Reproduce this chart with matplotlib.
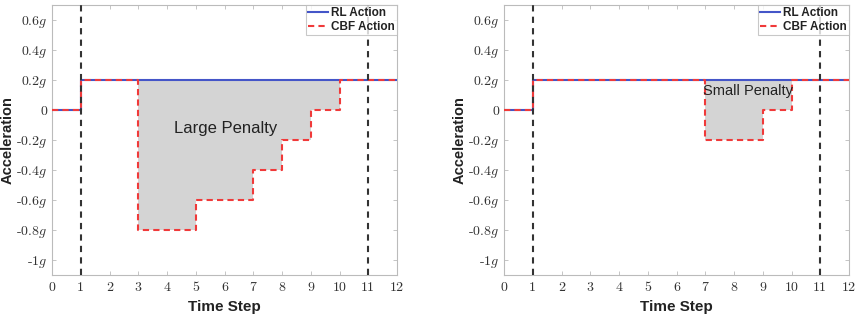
import matplotlib
matplotlib.use("Agg")
import matplotlib.pyplot as plt
import numpy as np

plt.rcParams['mathtext.fontset'] = 'cm'
plt.rcParams['font.family'] = ['Liberation Sans', 'DejaVu Sans']

# Data
t_edges = [0, 1, 2, 3, 4, 5, 6, 7, 8, 9, 10, 11, 12]
rl_action = [0, 0.2, 0.2, 0.2, 0.2, 0.2, 0.2, 0.2, 0.2, 0.2, 0.2, 0.2]
cbf_large = [0, 0.2, 0.2, -0.8, -0.8, -0.6, -0.6, -0.4, -0.2, 0, 0.2, 0.2]
cbf_small = [0, 0.2, 0.2, 0.2, 0.2, 0.2, 0.2, -0.2, -0.2, 0, 0.2, 0.2]
yticks = [-1, -0.8, -0.6, -0.4, -0.2, 0, 0.2, 0.4, 0.6]
ytick_labels = ['-1$g$', '-0.8$g$', '-0.6$g$', '-0.4$g$', '-0.2$g$', '0',
                '0.2$g$', '0.4$g$', '0.6$g$']
xticks = list(range(0, 13))
vlines = [1, 11]
panel_texts = ['Large Penalty', 'Small Penalty']
text_pos = [(6.05, -0.12), (8.5, 0.125)]
text_sizes = [12, 10.5]

fig = plt.figure(figsize=(8.56, 3.2), dpi=100)
ax1 = fig.add_axes([52/856, 1-275/320, 345/856, 270/320])
ax2 = fig.add_axes([504/856, 1-275/320, 345/856, 270/320])

def stairs_xy(vals):
    x = np.array(t_edges, dtype=float)
    y = np.array(list(vals) + [vals[-1]], dtype=float)
    return x, y

blue = '#4455c8'
red = '#f03a3a'
for ax, cbf, txt, pos, ts in zip([ax1, ax2], [cbf_large, cbf_small], panel_texts, text_pos, text_sizes):
    x, yr = stairs_xy(rl_action)
    _, yc = stairs_xy(cbf)
    ax.fill_between(x, yr, yc, step='post', color='#d4d4d4', linewidth=0, zorder=1)
    ax.step(x, yr, where='post', color=blue, lw=1.5, label='RL Action', zorder=3)
    ax.step(x, yc, where='post', color=red, lw=1.5, ls=(0, (3, 2)), label='CBF Action', zorder=4)
    for v in vlines:
        ax.axvline(v, color='#333333', lw=1.5, ls=(0, (3, 2.5)), zorder=5)
    ax.text(pos[0], pos[1], txt, ha='center', va='center', fontsize=ts, color='#222222', zorder=6)
    ax.set_xlim(0, 12)
    ax.set_ylim(-1.1, 0.7)
    ax.set_xticks(xticks)
    ax.set_xticklabels([str(v) for v in xticks], fontfamily='cmr10')
    ax.set_yticks(yticks)
    ax.set_yticklabels(ytick_labels, fontfamily='cmr10')
    ax.tick_params(direction='in', length=3, width=0.6, colors='#bbbbbb', labelcolor='#333333',
                   labelsize=10, top=True, right=True, pad=3.5)
    ax.tick_params(axis='x', pad=5)
    for s in ax.spines.values():
        s.set_color('#bbbbbb')
        s.set_linewidth(0.8)
    ax.set_xlabel('Time Step', fontsize=11, fontweight='bold', color='#222222', labelpad=4)
    ax.set_ylabel('Acceleration', fontsize=10.5, fontweight='bold', color='#222222')
    ax.yaxis.set_label_coords(-0.108, 0.5)
    leg = ax.legend(loc='upper right', prop={'weight': 'bold', 'size': 8.5},
                    frameon=True, fancybox=False, borderaxespad=0, handlelength=1.7,
                    handletextpad=0.25, borderpad=0.2, labelspacing=0.15)
    leg.get_frame().set_edgecolor('#bbbbbb')
    leg.get_frame().set_linewidth(0.8)
    for t in leg.get_texts():
        t.set_color('#222222')

fig.savefig('out.png', dpi=100)
